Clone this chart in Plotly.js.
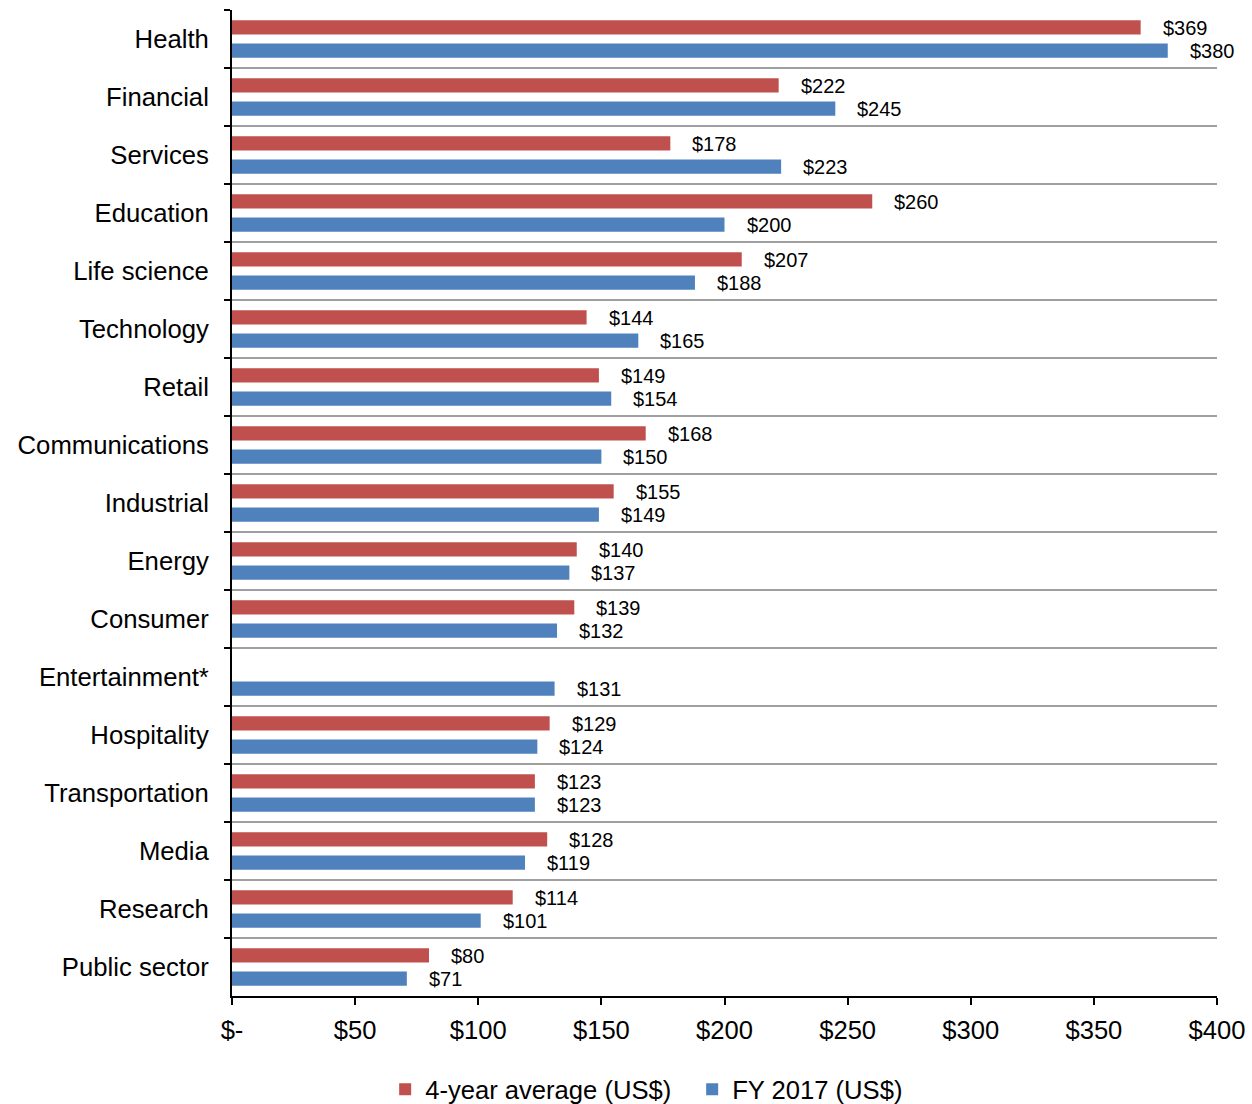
<!DOCTYPE html>
<html>
<head>
<meta charset="utf-8">
<script src="https://cdn.plot.ly/plotly-3.0.1.min.js"></script>
<style>
  html, body { margin: 0; padding: 0; background: #ffffff; }
  #chart { width: 1252px; height: 1104px; }
</style>
</head>
<body>
<div id="chart"></div>
<script>
const categories = ["Health", "Financial", "Services", "Education", "Life science", "Technology", "Retail",
  "Communications", "Industrial", "Energy", "Consumer", "Entertainment*", "Hospitality",
  "Transportation", "Media", "Research", "Public sector"];
const avg4yr = [369, 222, 178, 260, 207, 144, 149, 168, 155, 140, 139, null, 129, 123, 128, 114, 80];
const fy2017 = [380, 245, 223, 200, 188, 165, 154, 150, 149, 137, 132, 131, 124, 123, 119, 101, 71];
const xTickVals = [0, 50, 100, 150, 200, 250, 300, 350, 400];
const xTickText = ["$-", "$50", "$100", "$150", "$200", "$250", "$300", "$350", "$400"];
const seriesNames = ["4-year average (US$)", "FY 2017 (US$)"];

const RED = "#C0504D", BLUE = "#4F81BD";
const FONT = "Liberation Sans, Arial, sans-serif";

const traces = [
  { type: "bar", orientation: "h", name: seriesNames[0], y: categories, x: avg4yr,
    marker: { color: RED }, hoverinfo: "x+y" },
  { type: "bar", orientation: "h", name: seriesNames[1], y: categories, x: fy2017,
    marker: { color: BLUE }, hoverinfo: "x+y" }
];

const annotations = [];
function addLabels(vals, shiftY) {
  vals.forEach((v, i) => {
    if (v === null || v === undefined) return;
    annotations.push({
      x: v, y: categories[i], xref: "x", yref: "y",
      text: "$" + v, showarrow: false, xanchor: "left", yanchor: "middle",
      xshift: 20, yshift: shiftY,
      font: { family: FONT, size: 20, color: "#000000" }
    });
  });
}
addLabels(avg4yr, 11.5);
addLabels(fy2017, -11.5);

const layout = {
  width: 1252, height: 1104,
  margin: { l: 232, r: 35, t: 10, b: 108, pad: 0, autoexpand: false },
  paper_bgcolor: "#ffffff", plot_bgcolor: "#ffffff",
  barmode: "group", bargap: 0.2, bargroupgap: 0.38,
  showlegend: true,
  legend: { orientation: "h", x: 0.1555, xanchor: "left", y: -0.095, yanchor: "middle",
    entrywidth: 262, entrywidthmode: "pixels",
    font: { family: FONT, size: 25.6, color: "#000000" }, tracegroupgap: 0 },
  xaxis: {
    range: [0, 400], tickmode: "array", tickvals: xTickVals, ticktext: xTickText,
    showgrid: false, zeroline: false, showline: true, linecolor: "#000000", linewidth: 2,
    ticks: "outside", ticklen: 7, tickwidth: 2, tickcolor: "#000000",
    ticklabelstandoff: 3, automargin: false,
    tickfont: { family: FONT, size: 25.6, color: "#000000" }, fixedrange: true
  },
  yaxis: {
    type: "category", autorange: "reversed",
    showline: true, linecolor: "#000000", linewidth: 2,
    ticks: "outside", ticklen: 6, tickwidth: 2, tickcolor: "#000000", tickson: "boundaries",
    showgrid: true, gridcolor: "#a0a0a0", gridwidth: 2,
    ticklabelstandoff: 16, automargin: false,
    tickfont: { family: FONT, size: 25.7, color: "#000000" }, fixedrange: true
  },
  annotations: annotations
};

Plotly.newPlot("chart", traces, layout, { displayModeBar: false, staticPlot: true });
</script>
</body>
</html>
